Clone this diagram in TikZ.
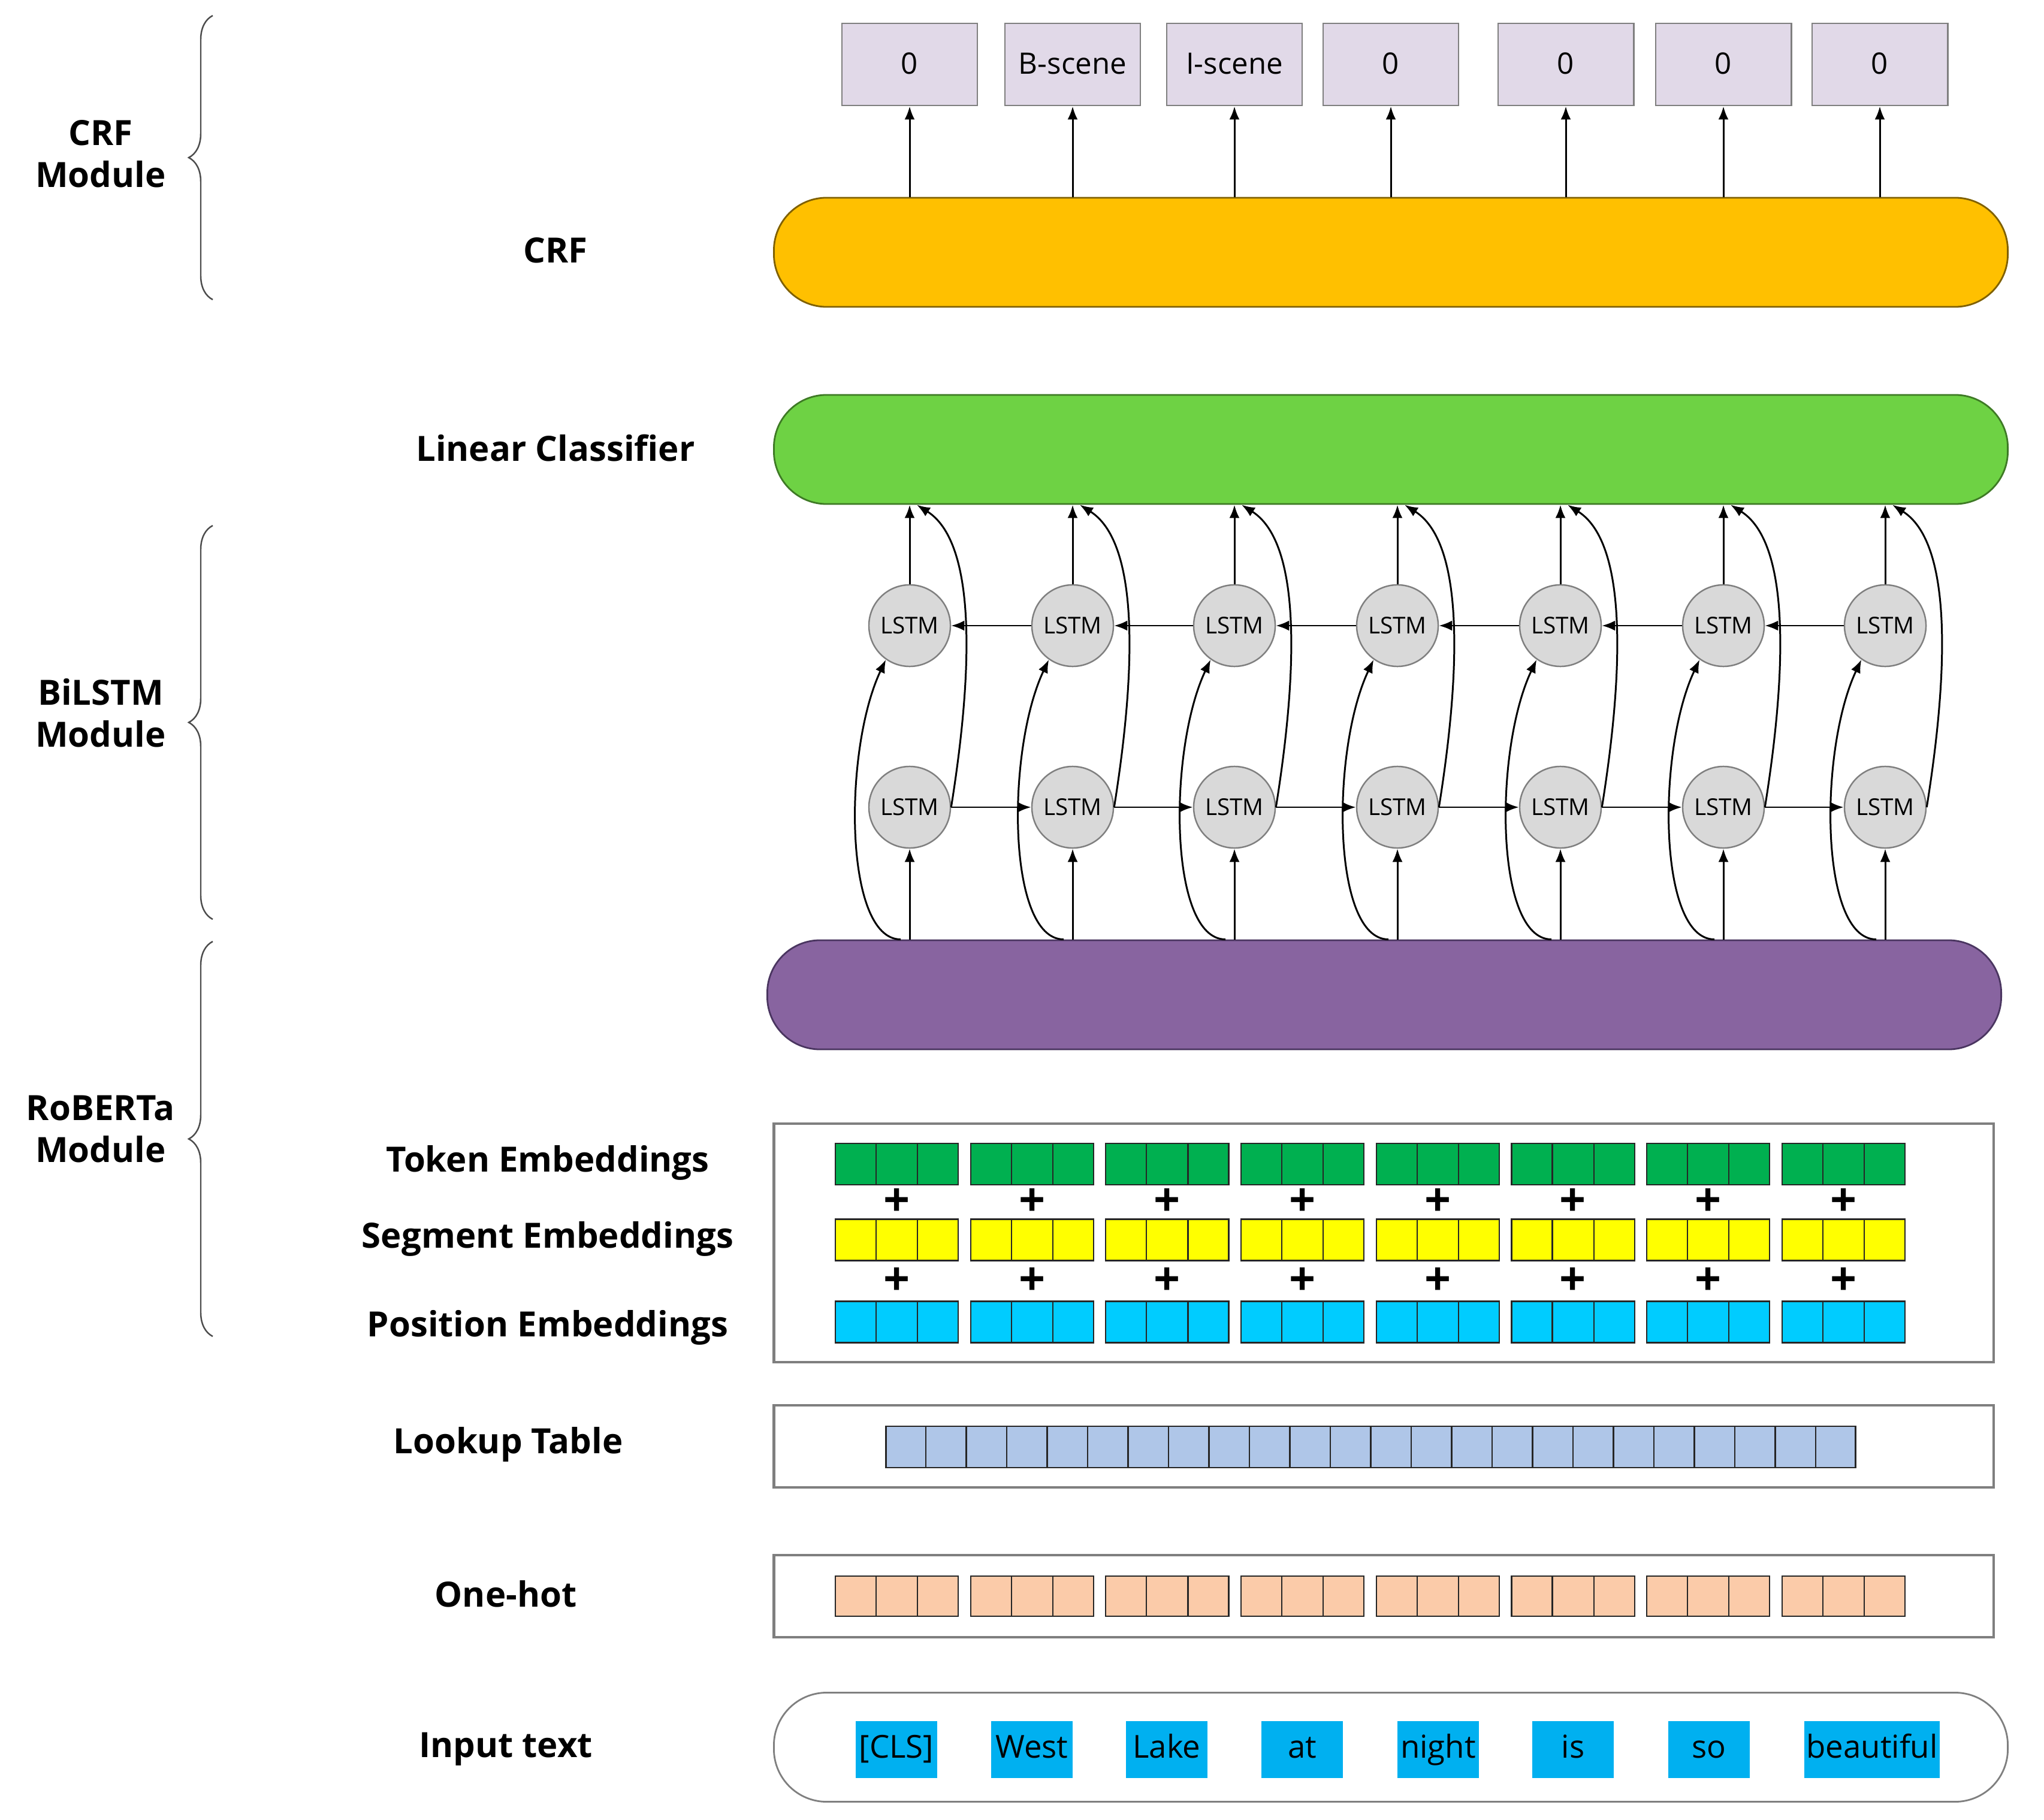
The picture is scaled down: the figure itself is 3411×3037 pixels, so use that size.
\documentclass[tikz,border=0pt]{standalone}
\usepackage{fontspec}
\setmainfont{Open Sans}
\usetikzlibrary{arrows.meta,decorations.pathreplacing,calc}
\definecolor{outfill}{HTML}{E1D9E8}
\definecolor{crfc}{HTML}{FFC000}
\definecolor{crfd}{HTML}{7F6000}
\definecolor{linc}{HTML}{6ED244}
\definecolor{lind}{HTML}{3E7A25}
\definecolor{robc}{HTML}{8864A0}
\definecolor{robd}{HTML}{4A3560}
\definecolor{lstmc}{HTML}{D9D9D9}
\definecolor{tokc}{HTML}{00B050}
\definecolor{segc}{HTML}{FFFF00}
\definecolor{posc}{HTML}{00CCFF}
\definecolor{lkc}{HTML}{AFC6E8}
\definecolor{ohc}{HTML}{FBCBA9}
\definecolor{wordc}{HTML}{00B0F0}
\definecolor{boxd}{HTML}{7F7F7F}
\begin{document}
\begin{tikzpicture}[x=0.01cm,y=-0.01cm,
  lbl/.style={font=\fontsize{16.5}{20}\selectfont\bfseries, align=center, inner sep=0pt},
  outbox/.style={draw=boxd, fill=outfill, line width=0.8pt, minimum width=2.26cm, minimum height=1.37cm, font=\fontsize{14}{16}\selectfont, inner sep=0pt, text height=0.36cm, text depth=0.04cm},
  pill/.style={draw, line width=0.8pt, minimum width=20.58cm, minimum height=1.82cm, rounded corners=0.88cm, inner sep=0pt},
  lstm/.style={circle, draw=boxd, fill=lstmc, line width=0.7pt, minimum size=1.36cm, inner sep=0pt, font=\fontsize{11}{13}\selectfont},
  arr/.style={-{Latex[length=0.22cm,width=0.17cm]}, line width=0.85pt},
  modbox/.style={draw=boxd, line width=1.2pt, minimum width=20.34cm, inner sep=0pt},
  cellgrp/.style={draw=black!85, line width=0.6pt, minimum height=0.69cm, minimum width=2.05cm, inner sep=0pt},
  wordbox/.style={fill=wordc, minimum width=1.35cm, minimum height=0.95cm, inner sep=0pt, font=\fontsize{15}{18}\selectfont, text height=0.39cm, text depth=0.11cm},
  brc/.style={decorate, decoration={brace, amplitude=0.4cm}, draw=black!70, line width=0.7pt},
  plussign/.style={font=\fontsize{22}{24}\selectfont\bfseries, inner sep=0pt}
]
\useasboundingbox (0,0) rectangle (3411,3037);

% ---------- left module labels and braces
\node[lbl] (mcrf) at (168,257) {CRF\\Module};
\node[lbl] (mbil) at (168,1190) {BiLSTM\\Module};
\node[lbl] (mrob) at (168,1884) {RoBERTa\\Module};
\draw[brc] (355,500) -- (355,26);
\draw[brc] (355,1534) -- (355,877);
\draw[brc] (355,2230) -- (355,1571);

% ---------- layer labels
\node[lbl] (lcrf) at (927,418) {CRF};
\node[lbl] (llin) at (927,748) {Linear Classifier};
\node[lbl] (ltok) at (914,1940) {Token Embeddings};
\node[lbl] (lseg) at (914,2067) {Segment Embeddings};
\node[lbl] (lpos) at (914,2215) {Position Embeddings};
\node[lbl] (llk) at (848,2410) {Lookup Table};
\node[lbl] (loh) at (844,2660) {One-hot};
\node[lbl] (lin2) at (844,2919) {Input text};

% ---------- output tags
\foreach \x/\t [count=\i] in {1518/0,1790/B-scene,2060/I-scene,2321/0,2613/0,2876/0,3137/0} {
  \node[outbox] (o\i) at (\x,107.5) {\t};
}

% ---------- CRF, linear, RoBERTa layers
\node[pill, fill=crfc, draw=crfd] (crf) at (2321,421) {};
\node[pill, fill=linc, draw=lind] (lin) at (2321,750) {};
\node[pill, fill=robc, draw=robd] (rob) at (2310,1660) {};

\foreach \i in {1,...,7} {
  \draw[arr] (crf.north -| o\i) -- (o\i.south);
}

% ---------- BiLSTM
\foreach \x [count=\i] in {1518,1790,2060,2332,2604,2876,3146} {
  \node[lstm] (t\i) at (\x,1044) {LSTM};
  \node[lstm] (b\i) at (\x,1347) {LSTM};
}
\foreach \i in {1,...,7} {
  \draw[arr] (rob.north -| b\i) -- (b\i);
  \draw[arr] (t\i) -- (t\i |- lin.south);
  \draw[arr] ($(rob.north -| b\i)+(-15,0)$) .. controls +(-95,0) and +(-71,150) .. (t\i.235);
  \draw[arr] (b\i.east) .. controls +(40,-250) and +(95,60) .. ($(lin.south -| t\i)+(12,0)$);
}
\foreach \i/\j in {1/2,2/3,3/4,4/5,5/6,6/7} {
  \draw[arr] (b\i) -- (b\j);
  \draw[arr] (t\j) -- (t\i);
}

% ---------- embeddings box
\node[modbox, minimum height=3.98cm] (ebox) at (2309,2074) {};
\node[modbox, minimum height=1.37cm] (lbox) at (2309,2413.5) {};
\node[modbox, minimum height=1.37cm] (hbox) at (2309,2663.5) {};
\node[pill, fill=white, draw=boxd] (ibox) at (2321,2915.5) {};

\foreach \k in {0,...,7} {
  \pgfmathsetmacro{\gx}{1496.5+\k*225.7}
  \node[cellgrp, fill=tokc] (tok\k) at (\gx,1942.5) {};
  \node[cellgrp, fill=segc] (seg\k) at (\gx,2069) {};
  \node[cellgrp, fill=posc] (pos\k) at (\gx,2206) {};
  \node[cellgrp, fill=ohc, minimum height=0.67cm] (oh\k) at (\gx,2663.5) {};
  \node[plussign] (pa\k) at (\gx,2006) {+};
  \node[plussign] (pb\k) at (\gx,2138) {+};
  \foreach \n in {tok,seg,pos,oh} {
    \foreach \f in {1,2} {
      \draw[black!85, line width=0.6pt] ($(\n\k.north west)!\f/3!(\n\k.north east)$) -- ($(\n\k.south west)!\f/3!(\n\k.south east)$);
    }
  }
}

% ---------- lookup table
\node[cellgrp, fill=lkc, minimum width=16.17cm] (lk) at (2287.5,2414.5) {};
\foreach \f in {1,...,23} {
  \draw[black!85, line width=0.6pt] ($(lk.north west)!\f/24!(lk.north east)$) -- ($(lk.south west)!\f/24!(lk.south east)$);
}

% ---------- input words
\foreach \x/\w [count=\i] in {1496/{[CLS]},1722/West,1947/Lake,2173/at,2400/night,2625/is,2852/so} {
  \node[wordbox] (w\i) at (\x,2919.5) {\w};
}
\node[wordbox, minimum width=2.26cm] (w8) at (3124,2919.5) {beautiful};

\end{tikzpicture}
\end{document}
